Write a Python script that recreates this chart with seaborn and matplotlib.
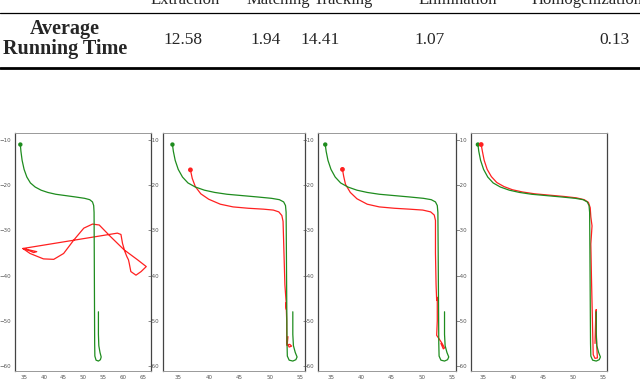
import numpy as np
import pandas as pd
import seaborn as sns
from matplotlib import pyplot as plt
from matplotlib.lines import Line2D

# table part (top of the page)
header_labels = ["Extraction", "Matching", "Tracking", "Elimination", "Homogenization"]
header_x = [185, 278, 343, 458, 532]
header_ha = ['center', 'center', 'center', 'center', 'left']
run_times = ["12.58", "1.94", "14.41", "1.07", "0.13"]
run_x = [183, 266, 320, 430, 615]

# ground truth trajectory (green), same in every panel
gt_x = [34.05, 34.2, 34.5, 35.0, 35.7, 36.6, 37.8, 39.3, 41.0, 43.0, 45.5, 48.0, 50.3, 51.6,
        52.3, 52.6, 52.7, 52.75, 52.8, 52.85, 52.9, 53.2, 53.8, 54.3, 54.5, 54.2, 53.9, 53.8, 53.8]
gt_y = [-11.0, -12.5, -14.5, -16.5, -18.2, -19.5, -20.4, -21.1, -21.6, -22.0, -22.3, -22.6, -22.9, -23.2,
        -23.7, -24.5, -26.0, -35.0, -45.0, -55.0, -57.8, -58.7, -58.9, -58.6, -58.0, -57.0, -55.5, -53.0, -48.0]

# estimated trajectories (red), one per method
est1_x = [34.7, 38.2, 37.4, 35.3, 34.7, 36.5, 39.9, 42.5, 45.0, 47.6, 50.1, 52.3, 54.0, 56.9, 60.3,
          63.7, 65.9, 64.6, 63.3, 62.0, 61.6, 61.4, 61.0, 60.5, 59.9, 59.5, 58.6, 34.7]
est1_y = [-34.0, -34.7, -34.9, -34.1, -34.0, -35.1, -36.3, -36.4, -35.1, -32.1, -29.5, -28.6, -28.8, -31.4, -34.3,
          -36.5, -38.0, -39.1, -39.9, -39.1, -37.3, -36.5, -35.8, -34.7, -32.9, -30.9, -30.6, -34.0]

est2_x = [37.0, 37.3, 37.8, 38.7, 40.0, 41.9, 44.0, 46.5, 49.0, 50.6, 51.5, 52.0, 52.2, 52.35, 52.5,
          52.7, 52.75, 52.7, 52.8, 52.8, 53.3, 53.6, 53.2, 52.9, 53.0]
est2_y = [-16.6, -18.5, -20.3, -21.9, -23.1, -24.2, -24.8, -25.1, -25.3, -25.5, -25.9, -26.7, -28.0, -35.0, -42.0,
          -45.8, -47.5, -46.0, -50.0, -55.4, -55.2, -55.6, -55.8, -55.0, -53.5]

est3_x = [36.9, 37.1, 37.4, 38.2, 39.3, 41.0, 43.0, 45.5, 48.0, 50.2, 51.5, 52.1, 52.3, 52.3, 52.4,
          52.5, 52.6, 52.6, 52.5, 52.9, 53.4, 53.8, 53.6, 53.2]
est3_y = [-16.5, -18.0, -19.8, -21.6, -23.0, -24.2, -24.8, -25.1, -25.3, -25.5, -25.9, -26.6, -27.8, -35.0, -42.0,
          -45.5, -44.8, -50.0, -53.2, -54.0, -55.0, -56.0, -56.2, -55.0]

est4_x = [34.6, 34.8, 35.1, 35.6, 36.3, 37.2, 38.4, 39.8, 41.5, 43.5, 46.0, 48.5, 50.5, 51.8, 52.5,
          52.8, 52.9, 53.1, 52.9, 53.0, 53.1, 53.2, 53.3, 53.6, 54.0, 53.9, 53.8, 53.8, 53.7, 53.6]
est4_y = [-11.0, -12.5, -14.5, -16.5, -18.1, -19.4, -20.3, -21.0, -21.5, -21.9, -22.2, -22.5, -22.8, -23.2, -23.8,
          -25.0, -27.0, -29.0, -33.0, -40.0, -46.0, -52.0, -57.5, -58.3, -58.2, -56.0, -52.0, -47.5, -50.0, -55.0]

estimates = [(est1_x, est1_y), (est2_x, est2_y), (est3_x, est3_y), (est4_x, est4_y)]
x_ticks = [[35, 40, 45, 50, 55, 60, 65], [35, 40, 45, 50, 55], [35, 40, 45, 50, 55], [35, 40, 45, 50, 55]]
y_ticks = [-10, -20, -30, -40, -50, -60]
x_limits = [(32.7, 67.1), (32.5, 55.8), (32.85, 55.7), (32.9, 55.6)]
show_est_start = [False, True, True, True]

# panel boxes in pixels: left, right, top, bottom
panel_px = [(15, 151, 133, 371), (163, 305, 133, 371), (318, 456, 133, 371), (471, 607, 133, 371)]

sns.set_style("white")
plt.rcParams['font.family'] = ['DejaVu Sans']

W, H = 640, 380
fig = plt.figure(figsize=(6.4, 3.8), dpi=100)

serif = ['Liberation Serif', 'DejaVu Serif']
for lab, x, ha in zip(header_labels, header_x, header_ha):
    fig.text(x / W, 1 - 4 / H, lab, ha=ha, va='baseline', fontsize=12, family=serif)
fig.text(65 / W, 1 - 29 / H, "Average", ha='center', va='center', fontsize=14.5,
         fontweight='bold', family=serif)
fig.text(65 / W, 1 - 49 / H, "Running Time", ha='center', va='center', fontsize=14.5,
         fontweight='bold', family=serif)
for val, x in zip(run_times, run_x):
    fig.text(x / W, 1 - 40 / H, val, ha='center', va='center', fontsize=12.5, family=serif)

fig.add_artist(Line2D([0, 1], [1 - 13 / H, 1 - 13 / H], color='black', lw=0.9))
fig.add_artist(Line2D([0, 1], [1 - 68 / H, 1 - 68 / H], color='black', lw=2.0))

for i, (l, r, t, b) in enumerate(panel_px):
    ax = fig.add_axes([l / W, 1 - b / H, (r - l) / W, (b - t) / H])
    ex, ey = estimates[i]
    est = pd.DataFrame({'x': ex, 'y': ey})
    gt = pd.DataFrame({'x': gt_x, 'y': gt_y})
    sns.lineplot(data=est, x='x', y='y', sort=False, estimator=None, color='#ff2020', lw=0.9, ax=ax)
    sns.lineplot(data=gt, x='x', y='y', sort=False, estimator=None, color='#1e8c1e', lw=0.9, ax=ax)
    sns.scatterplot(data=gt.iloc[:1], x='x', y='y', color='#1e8c1e', s=10, edgecolor='none', ax=ax)
    if show_est_start[i]:
        sns.scatterplot(data=est.iloc[:1], x='x', y='y', color='#ff2020', marker='o', s=12,
                        edgecolor='none', ax=ax)
    ax.set_xlim(*x_limits[i])
    ax.set_ylim(-61.1, -8.45)
    ax.set_xticks(x_ticks[i])
    ax.set_yticks(y_ticks)
    ax.set_xlabel('')
    ax.set_ylabel('')
    ax.tick_params(labelsize=4, colors='#555555', length=1.5, width=0.5, pad=1.5)
    for side in ['left', 'right']:
        ax.spines[side].set_color('#444444')
        ax.spines[side].set_linewidth(0.9)
    for side in ['top', 'bottom']:
        ax.spines[side].set_color('#999999')
        ax.spines[side].set_linewidth(0.7)

fig.savefig('out.png', dpi=100)
